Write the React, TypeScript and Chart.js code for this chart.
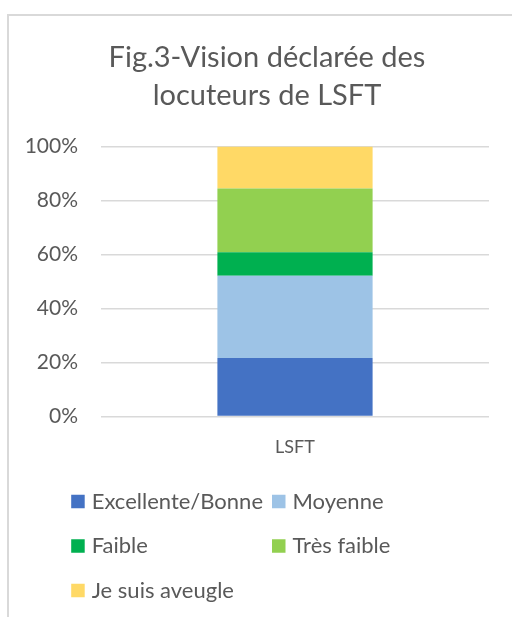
import React, { useEffect, useRef } from "react";
import { Chart, registerables } from "chart.js";

Chart.register(...registerables);

const categories = ["LSFT"];
const seriesNames = ["Excellente/Bonne", "Moyenne", "Faible", "Très faible", "Je suis aveugle"];
const excellente = [21.7];
const moyenne = [30.4];
const faible = [8.7];
const tresFaible = [23.6];
const aveugle = [15.6];
const seriesColors = ["#4472C4", "#9DC3E6", "#00B050", "#92D050", "#FFD966"];
const yTicks = [0, 20, 40, 60, 80, 100];
const titleLines = ["Fig.3-Vision déclarée des", "locuteurs de LSFT"];

const FONT = "Lato, 'Open Sans', sans-serif";
const TEXT = "#595959";
const BOX_CENTER_X = 267;

const gridTitle = {
  id: "gridTitle",
  afterDraw(chart: any) {
    const ctx = chart.ctx;
    ctx.save();
    ctx.font = `29px ${FONT}`;
    ctx.fillStyle = TEXT;
    ctx.textAlign = "center";
    ctx.textBaseline = "middle";
    titleLines.forEach((line, i) => ctx.fillText(line, BOX_CENTER_X, 58 + i * 38));
    ctx.restore();
  },
};

const gridLegend = {
  id: "gridLegend",
  afterDraw(chart: any) {
    const ctx = chart.ctx;
    const items = chart.data.datasets.map((d: any) => ({ text: d.label, color: d.backgroundColor }));
    ctx.save();
    ctx.font = `22px ${FONT}`;
    const box = 13.5;
    const gap = 7;
    const colGap = 9;
    let maxW = 0;
    items.forEach((it: any) => { maxW = Math.max(maxW, ctx.measureText(it.text).width); });
    const colStep = box + gap + maxW + colGap;
    const left = BOX_CENTER_X + 0.5 - (2 * colStep - colGap) / 2;
    const firstRow = 501.5;
    const rowStep = 44.5;
    items.forEach((it: any, i: number) => {
      const col = i % 2;
      const row = Math.floor(i / 2);
      const x = left + col * colStep;
      const y = firstRow + row * rowStep;
      ctx.fillStyle = it.color;
      ctx.fillRect(x, y - box / 2, box, box);
      ctx.fillStyle = TEXT;
      ctx.textBaseline = "middle";
      ctx.textAlign = "left";
      ctx.fillText(it.text, x + box + gap, y);
    });
    ctx.restore();
  },
};

export default function App() {
  const ref = useRef<HTMLCanvasElement | null>(null);
  useEffect(() => {
    if (!ref.current) return;
    const values = [excellente, moyenne, faible, tresFaible, aveugle];
    const chart = new Chart(ref.current, {
      type: "bar",
      data: {
        labels: categories,
        datasets: seriesNames.map((name, i) => ({
          label: name,
          data: values[i],
          backgroundColor: seriesColors[i],
          borderWidth: 0,
          barPercentage: 0.4,
          categoryPercentage: 1,
        })),
      },
      options: {
        responsive: false,
        animation: false,
        layout: { padding: { left: 0, right: 23, top: 146.5, bottom: 150.5 } },
        plugins: {
          legend: { display: false },
          tooltip: { enabled: false },
          title: { display: false },
        },
        scales: {
          x: {
            stacked: true,
            grid: { display: false, drawTicks: false },
            border: { display: false },
            ticks: { color: TEXT, font: { family: FONT, size: 18 }, padding: 20 },
            afterFit: (s: any) => { s.height = 50; },
          },
          y: {
            stacked: true,
            min: 0,
            max: 100,
            afterBuildTicks: (s: any) => { s.ticks = yTicks.map((v) => ({ value: v })); },
            grid: { color: "#D9D9D9", lineWidth: 1.5, drawTicks: false },
            border: { display: false },
            ticks: {
              color: TEXT,
              font: { family: FONT, size: 21 },
              padding: 23,
              callback: (v: any) => v + "%",
            },
            afterFit: (s: any) => { s.width = 101; },
          },
        },
      },
      plugins: [gridTitle, gridLegend],
    });
    return () => chart.destroy();
  }, []);
  return (
    <div style={{ position: "absolute", left: 0, top: 0, width: 512, height: 617, overflow: "hidden", background: "#fff" }}>
      <canvas ref={ref} width={512} height={617} style={{ position: "absolute", left: 0, top: 0 }} />
      <div
        style={{
          position: "absolute",
          left: 7,
          top: 14,
          width: 600,
          height: 700,
          border: "2px solid #D9D9D9",
          boxSizing: "border-box",
          pointerEvents: "none",
        }}
      />
    </div>
  );
}
